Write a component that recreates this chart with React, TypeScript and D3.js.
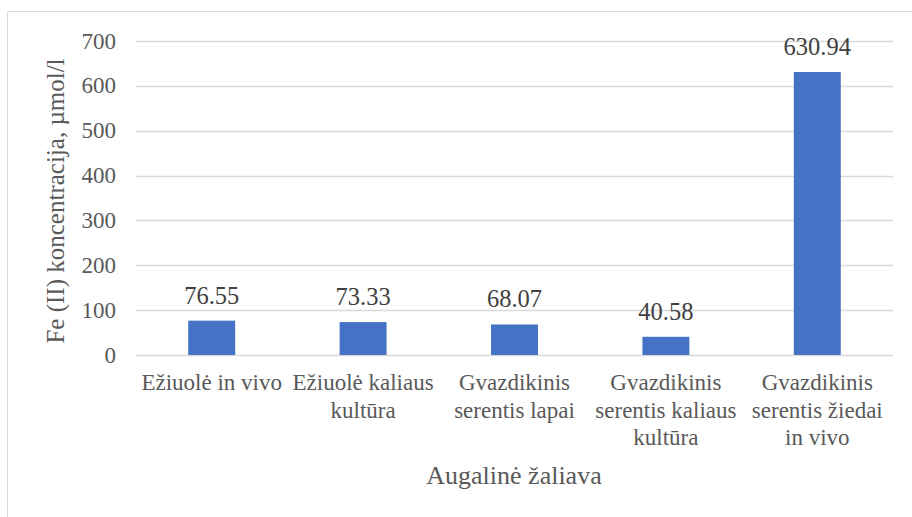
import React, { useEffect, useRef } from "react";
import * as d3 from "d3";

const categories = [
  ["Ežiuolė in vivo"],
  ["Ežiuolė kaliaus", "kultūra"],
  ["Gvazdikinis", "serentis lapai"],
  ["Gvazdikinis", "serentis kaliaus", "kultūra"],
  ["Gvazdikinis", "serentis žiedai", "in vivo"],
];
const values = [76.55, 73.33, 68.07, 40.58, 630.94];
const yTicks = [0, 100, 200, 300, 400, 500, 600, 700];
const yTitle = "Fe (II) koncentracija, µmol/l";
const xTitle = "Augalinė žaliava";

const W = 912;
const H = 517;
const FONT = "Liberation Serif";
const FS = 23;

export default function App() {
  const ref = useRef<SVGSVGElement>(null);

  useEffect(() => {
    const svg = d3.select(ref.current);
    svg.selectAll("*").remove();

    const left = 136, right = 893, top = 41, bottom = 355;
    const x = d3.scaleBand<number>()
      .domain(d3.range(values.length))
      .range([left, right])
      .paddingInner(0.69)
      .paddingOuter(0.345);
    const y = d3.scaleLinear().domain([0, 700]).range([bottom, top]);

    // chart border
    svg.append("path")
      .attr("d", `M7.5,${H + 2}V11.5H${W + 2}`)
      .attr("fill", "none")
      .attr("stroke", "#d9d9d9");

    // gridlines + tick labels
    const grid = svg.append("g");
    grid.selectAll("line").data(yTicks).join("line")
      .attr("x1", left).attr("x2", right)
      .attr("y1", d => Math.round(y(d)) + 0.5)
      .attr("y2", d => Math.round(y(d)) + 0.5)
      .attr("stroke", "#d9d9d9").attr("stroke-width", 1.3);
    grid.selectAll("text").data(yTicks).join("text")
      .attr("x", 116)
      .attr("y", d => y(d))
      .attr("dy", "0.33em")
      .attr("text-anchor", "end")
      .style("font-family", FONT)
      .style("font-size", FS + "px")
      .attr("fill", "#595959")
      .text(d => d);

    // bars
    svg.append("g").selectAll("rect").data(values).join("rect")
      .attr("x", (_, i) => x(i)!)
      .attr("width", x.bandwidth())
      .attr("y", d => y(d))
      .attr("height", d => y(0) - y(d))
      .attr("fill", "#4472c4");

    // data labels
    svg.append("g").selectAll("text").data(values).join("text")
      .attr("x", (_, i) => x(i)! + x.bandwidth() / 2)
      .attr("y", d => y(d) - 17)
      .attr("text-anchor", "middle")
      .style("font-family", FONT)
      .style("font-size", "24.5px")
      .attr("fill", "#404040")
      .text(d => d.toFixed(2));

    // category labels
    const cat = svg.append("g");
    categories.forEach((lines, i) => {
      const t = cat.append("text")
        .attr("x", x(i)! + x.bandwidth() / 2)
        .attr("y", 390)
        .attr("text-anchor", "middle")
        .style("font-family", FONT)
        .style("font-size", FS + "px")
        .attr("fill", "#595959");
      lines.forEach((ln, j) => {
        t.append("tspan")
          .attr("x", x(i)! + x.bandwidth() / 2)
          .attr("dy", j === 0 ? 0 : 27.5)
          .text(ln);
      });
    });

    // axis titles
    svg.append("text")
      .attr("transform", `translate(64,201) rotate(-90)`)
      .attr("text-anchor", "middle")
      .style("font-family", FONT)
      .style("font-size", "25px")
      .attr("fill", "#595959")
      .text(yTitle);

    svg.append("text")
      .attr("x", 514)
      .attr("y", 484)
      .attr("text-anchor", "middle")
      .style("font-family", FONT)
      .style("font-size", "26px")
      .attr("fill", "#595959")
      .text(xTitle);
  }, []);

  return (
    <svg
      ref={ref}
      width={W}
      height={H}
      style={{ position: "absolute", left: 0, top: 0, background: "#fff" }}
    />
  );
}
